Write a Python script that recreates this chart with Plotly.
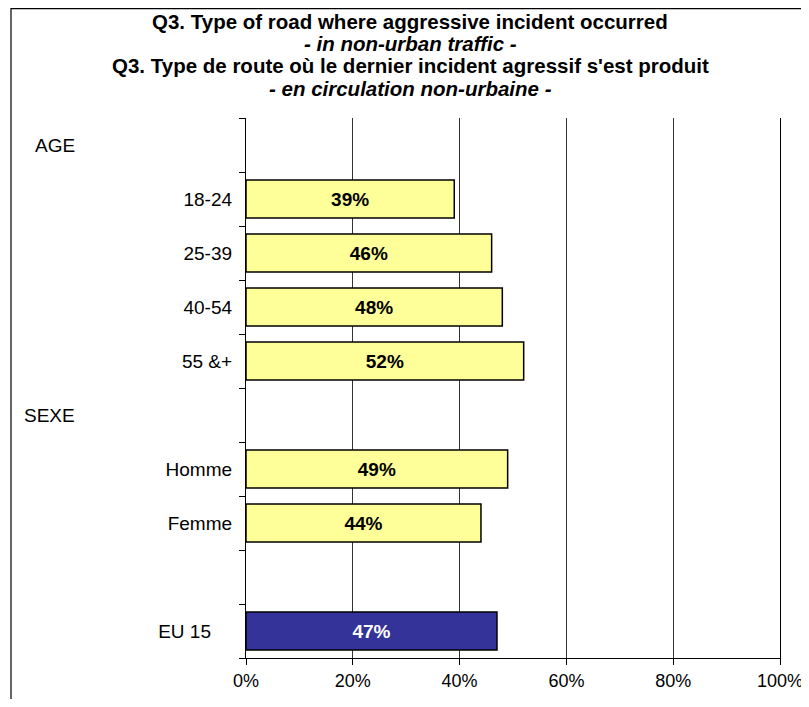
import plotly.graph_objects as go

# ---- data ----
row_keys = ["AGE", "18-24", "25-39", "40-54", "55 &+", "SEXE", "Homme", "Femme", "blank", "EU 15"]
row_labels = ["", "18-24", "25-39", "40-54", "55 &+", "", "Homme", "Femme", "", "EU 15\u00a0\u00a0\u00a0\u00a0"]
values = [None, 0.39, 0.46, 0.48, 0.52, None, 0.49, 0.44, None, 0.47]
group_headers = ["AGE", "SEXE"]
x_ticks = [0, 0.2, 0.4, 0.6, 0.8, 1.0]
title_lines = [
    "<b>Q3. Type of road where aggressive incident occurred</b>",
    "<b><i>- in non-urban traffic -</i></b>",
    "<b>Q3. Type de route où le dernier incident agressif s'est produit</b>",
    "<b><i>- en circulation non-urbaine -</i></b>",
]

yellow = "#FFFF99"
navy = "#333399"
bar_colors = [navy if k == "EU 15" else yellow for k in row_keys]
text_colors = ["white" if k == "EU 15" else "black" for k in row_keys]

FONT = "Liberation Sans, Arial, sans-serif"
OFF = 8  # page body margin
W, H = 801, 691
L, R, T, B = 238, 29, 110, 41
pw, ph = W - L - R, H - T - B

fig = go.Figure()
fig.add_trace(go.Bar(
    y=row_keys, x=values, orientation="h", width=0.7,
    marker=dict(color=bar_colors, line=dict(color="black", width=1.5)),
    texttemplate="<b>%{x:.0%}</b>", textposition="inside", insidetextanchor="middle",
    textfont=dict(family=FONT, size=19, color=text_colors),
    textangle=0, hoverinfo="skip", cliponaxis=False,
))

def px_x(p):
    return (p - OFF - L) / pw

def px_y(p):
    return (H - B - (p - OFF)) / ph

annotations = []
for g in group_headers:
    annotations.append(dict(
        text=g, x=px_x(77), xref="paper", xanchor="right",
        y=g, yref="y", yanchor="middle", showarrow=False,
        font=dict(family=FONT, size=19, color="black"),
    ))

title_y = [22, 44, 66, 89]
for t, ty in zip(title_lines, title_y):
    annotations.append(dict(
        text=t, x=px_x(410), xref="paper", xanchor="center",
        y=px_y(ty), yref="paper", yanchor="middle", showarrow=False,
        font=dict(family=FONT, size=20.5, color="black"),
    ))

fig.update_layout(
    template="none",
    width=W, height=H,
    margin=dict(l=L, r=R, t=T, b=B, pad=0, autoexpand=False),
    paper_bgcolor="white", plot_bgcolor="white",
    showlegend=False,
    annotations=annotations,
    shapes=[dict(type="rect", xref="paper", yref="paper",
                 x0=px_x(11), x1=px_x(805), y0=px_y(740), y1=(H - B - 0.7) / ph,
                 line=dict(color="black", width=1.2), fillcolor="rgba(0,0,0,0)", layer="below")],
    xaxis=dict(
        range=[0, 1], tickvals=x_ticks, tickformat=".0%", automargin=False,
        ticklabeloverflow="allow",
        showgrid=True, gridcolor="#333333", gridwidth=1,
        showline=True, linecolor="black", linewidth=1.2,
        ticks="outside", ticklen=6, tickcolor="black",
        tickfont=dict(family=FONT, size=18, color="black"),
        zeroline=False, fixedrange=True,
    ),
    yaxis=dict(
        categoryorder="array", categoryarray=row_keys, automargin=False,
        tickvals=row_keys, ticktext=row_labels,
        autorange="reversed", tickson="boundaries",
        showline=True, mirror=True, linecolor="black", linewidth=1.2,
        ticks="outside", ticklen=6, tickcolor="black", ticklabelstandoff=9,
        tickfont=dict(family=FONT, size=19, color="black"),
        showgrid=False, zeroline=False, fixedrange=True,
    ),
)

fig.write_html("out.html")
